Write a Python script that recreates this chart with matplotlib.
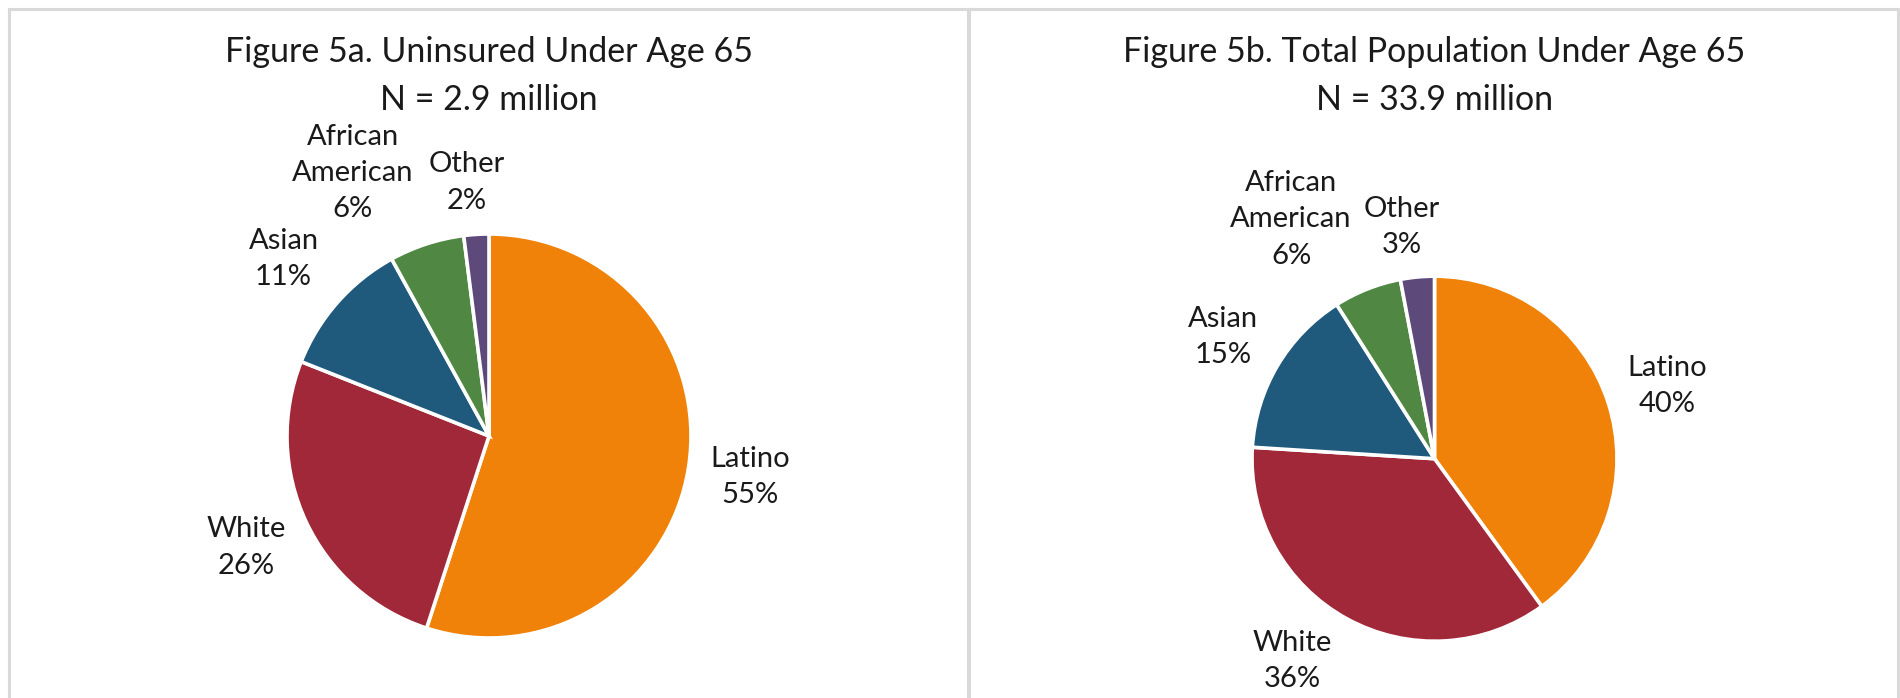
import matplotlib.pyplot as plt
from matplotlib.patches import Rectangle

# data
categories = ['Latino', 'White', 'Asian', 'African American', 'Other']
uninsured_pct = [55, 26, 11, 6, 2]
total_pct = [40, 36, 15, 6, 3]
titles = ['Figure 5a. Uninsured Under Age 65\nN = 2.9 million',
          'Figure 5b. Total Population Under Age 65\nN = 33.9 million']

colors = ['#F0820A', '#A12838', '#1F5A7D', '#4F8743', '#5E4A7A']

W, H = 1900, 698
plt.rcParams['font.family'] = ['Lato', 'DejaVu Sans']

# label positions, in pie radii from the centre (Excel "best fit" placement)
label_pos_a = [(1.292, -0.203), (-1.203, -0.552), (-1.017, 0.876), (-0.675, 1.300), (-0.111, 1.255)]
label_pos_b = [(1.274, 0.396), (-0.777, -1.106), (-1.159, 0.667), (-0.786, 1.311), (-0.178, 1.271)]


def draw_pie(fig, values, title, panel, center, radius, label_pos):
    x0, x1 = panel
    cx, cy = center
    ax = fig.add_axes([x0 / W, 0, (x1 - x0) / W, 1])
    ax.pie(values, colors=colors, startangle=90, counterclock=False, radius=1,
           wedgeprops=dict(edgecolor='white', linewidth=2.6))
    ax.set_xlim((x0 - cx) / radius, (x1 - cx) / radius)
    ax.set_ylim((cy - H) / radius, cy / radius)
    ax.set_aspect('equal', adjustable='datalim')
    ax.axis('off')
    for name, v, (lx, ly) in zip(categories, values, label_pos):
        ax.text(lx, ly, f"{name.replace(' ', chr(10))}\n{v}%", ha='center', va='center',
                fontsize=21, linespacing=1.48, color='#1a1a1a')
    fig.text(cx / W, 1 - 76 / H, title, ha='center', va='center', fontsize=24.5,
             linespacing=1.6, color='#1a1a1a')


fig = plt.figure(figsize=(W / 100, H / 100), dpi=100)

# panel borders
border = '#D9D9D9'
fig.patches.append(Rectangle((9 / W, -0.1), (959 / W), 1.1 - 9 / H, transform=fig.transFigure,
                             fill=False, edgecolor=border, linewidth=2.2))
fig.patches.append(Rectangle((969 / W, -0.1), (929 / W), 1.1 - 9 / H, transform=fig.transFigure,
                             fill=False, edgecolor=border, linewidth=2.2))

draw_pie(fig, uninsured_pct, titles[0], (12, 966), (489, 436), 202, label_pos_a)
draw_pie(fig, total_pct, titles[1], (972, 1896), (1434.5, 458.7), 182.5, label_pos_b)

fig.savefig('out.png', dpi=100)
